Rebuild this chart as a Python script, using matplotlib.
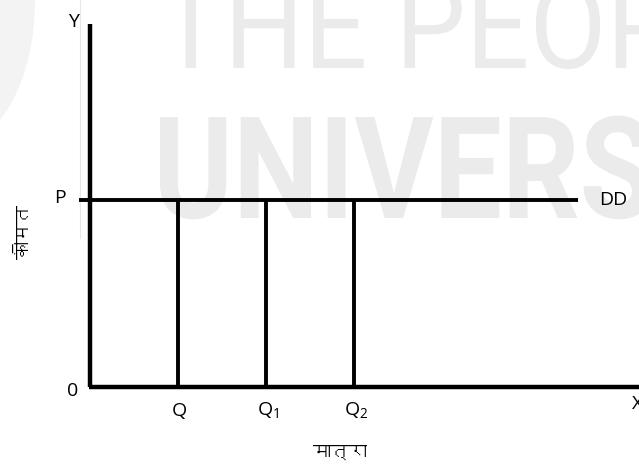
import matplotlib
matplotlib.use("Agg")
import matplotlib.pyplot as plt
from matplotlib import font_manager
from matplotlib.font_manager import FontProperties
from matplotlib.textpath import TextPath
from matplotlib.patches import PathPatch, Ellipse
from matplotlib.transforms import Affine2D
from fontTools.ttLib import TTFont

# data: perfectly elastic demand curve at price P, quantities Q, Q1, Q2
q_values = [1, 2, 3]
q_labels = ["Q", r"Q$_{\mathregular{1}}$", r"Q$_{\mathregular{2}}$"]
price = 1.0
dd_end = 5.55
x_axis_end = 6.3
y_axis_top = 1.94

price_label = "कीमत"
qty_label = "मात्रा"


# look for a font that has Devanagari glyphs
def find_font(ch, fallback="DejaVu Sans"):
    for f in font_manager.fontManager.ttflist:
        try:
            tt = TTFont(f.fname, fontNumber=0, lazy=True)
            if ord(ch) in tt.getBestCmap():
                return f.name
        except Exception:
            pass
    return fallback

hindi_font = find_font("क")
latin = ["Open Sans", "DejaVu Sans"]

fig = plt.figure(figsize=(6.39, 4.66), dpi=100)

# background axes in pixel units, only for the faint watermark
bg = fig.add_axes([0, 0, 1, 1])
bg.set_xlim(0, 639)
bg.set_ylim(466, 0)
bg.axis("off")


def watermark(text, fit_text, left, right, baseline, cap, weight, color):
    fp = FontProperties(family=["Roboto", "DejaVu Sans"], weight=weight)
    path = TextPath((0, 0), text, size=1, prop=fp)
    fit = TextPath((0, 0), fit_text, size=1, prop=fp).get_extents()
    h = TextPath((0, 0), "H", size=1, prop=fp).get_extents().height
    sx = (right - left) / fit.width
    sy = cap / h
    tr = Affine2D().translate(-fit.x0, 0).scale(sx, -sy).translate(left, baseline)
    bg.add_patch(PathPatch(tr.transform_path(path), fc=color, ec="none", zorder=0))

wm = "#ebebeb"
bg.add_patch(Ellipse((-45, 0), 160, 290, fc="#f3f3f3", ec="none", zorder=0))
bg.plot([80, 80], [0, 238], color="#e8e8e8", lw=0.8, zorder=0)
watermark("THE PEOPLE'S", "THE PEO", 160, 600, 68, 86, "normal", wm)
watermark("UNIVERSITY", "UNIVER", 160, 577, 218, 101, "bold", wm)

ax = fig.add_axes([0, 0, 1, 1])
ax.set_xlim(-1.0227, 6.239)
ax.set_ylim(-0.4225, 2.0695)
ax.axis("off")

# axes
ax.plot([0, 0], [0, y_axis_top], color="black", lw=3.2, solid_capstyle="butt")
ax.plot([-0.01, x_axis_end], [0, 0], color="black", lw=3.2,
        solid_capstyle="butt")

# demand curve DD
ax.plot([-0.13, dd_end], [price, price], color="black", lw=2.8,
        solid_capstyle="butt")

# verticals from the DD line to each quantity
for q in q_values:
    ax.plot([q, q], [0, price], color="black", lw=2.8, solid_capstyle="butt")

fs = 14
ax.text(-0.19, 1.95, "Y", fontsize=fs, family=latin, ha="center", va="center")
ax.text(-0.34, price + 0.01, "P", fontsize=fs, family=latin,
        ha="center", va="center")
ax.text(-0.2, -0.02, "0", fontsize=fs, family=latin, ha="center",
        va="center")
ax.text(5.79, price, "DD", fontsize=fs, family=latin, ha="left", va="center")
ax.text(6.16, -0.09, "X", fontsize=fs, family=latin, ha="left",
        va="center")
for q, lab in zip(q_values, q_labels):
    ax.text(q + 0.02, -0.13, lab, fontsize=fs, family=latin, ha="center",
            va="center")

ax.text(-0.75, 0.83, price_label, fontsize=13, family=[hindi_font, "DejaVu Sans"],
        rotation=90, ha="center", va="center")
ax.text(2.84, -0.35, qty_label, fontsize=13, family=[hindi_font, "DejaVu Sans"],
        ha="center", va="center")

fig.savefig("out.png", dpi=100)
